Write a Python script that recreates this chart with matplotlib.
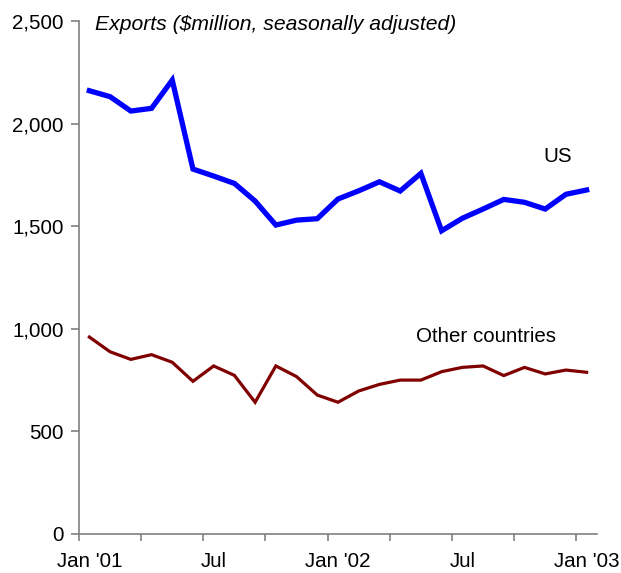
import matplotlib
matplotlib.use("Agg")
import matplotlib.pyplot as plt

plt.rcParams['font.family'] = ['Liberation Sans', 'DejaVu Sans']

months = list(range(25))  # Jan '01 .. Jan '03
us = [2160, 2131, 2061, 2074, 2212, 1778, 1744, 1708, 1622, 1505, 1529, 1536,
      1632, 1672, 1716, 1671, 1757, 1477, 1538, 1583, 1630, 1616, 1583, 1655, 1676]
other = [959, 887, 850, 873, 836, 743, 818, 772, 641, 818, 766, 676,
         641, 696, 728, 749, 749, 790, 811, 818, 771, 811, 779, 798, 787]
x_labels = ["Jan '01", "Jul", "Jan '02", "Jul", "Jan '03"]
x_label_pos = [0, 6, 12, 18, 24]
y_ticks = [0, 500, 1000, 1500, 2000, 2500]

W, H = 621, 573
FS = 14.8
fig = plt.figure(figsize=(W / 100, H / 100), dpi=100)
ax = fig.add_axes([79 / W, 1 - 533.7 / H, (597 - 79) / W, (533.7 - 21) / H])

ax.plot(months, us, color='#0000FF', lw=3.8, solid_joinstyle='miter', clip_on=False)
ax.plot(months, other, color='#800000', lw=2.3, solid_joinstyle='miter', clip_on=False)

ax.set_xlim(-0.5, 24.5)
ax.set_ylim(0, 2500)

for s in ['top', 'right']:
    ax.spines[s].set_visible(False)
for s in ['left', 'bottom']:
    ax.spines[s].set_color('#808080')
    ax.spines[s].set_linewidth(1.2)

ax.set_yticks(y_ticks)
ax.set_yticklabels([f"{v:,}" for v in y_ticks])
ax.tick_params(axis='y', direction='out', length=6, width=1.2, color='#808080',
               labelsize=FS, pad=5)

ax.set_xticks([-0.5 + 3 * k for k in range(9)])
ax.set_xticklabels([])
ax.tick_params(axis='x', which='major', direction='out', length=5, width=1.2, color='#808080')
ax.set_xticks(x_label_pos, minor=True)
ax.set_xticklabels(x_labels, minor=True)
ax.tick_params(axis='x', which='minor', length=0, labelsize=FS, pad=13)

fig.text(95 / W, 1 - 25 / H, "Exports ($million, seasonally adjusted)",
         fontsize=15.2, style='italic', va='center', ha='left')
fig.text(543 / W, 1 - 157 / H, "US", fontsize=FS, va='center', ha='left')
fig.text(416 / W, 1 - 336 / H, "Other countries", fontsize=FS, va='center', ha='left')

fig.savefig("out.png", dpi=100)
